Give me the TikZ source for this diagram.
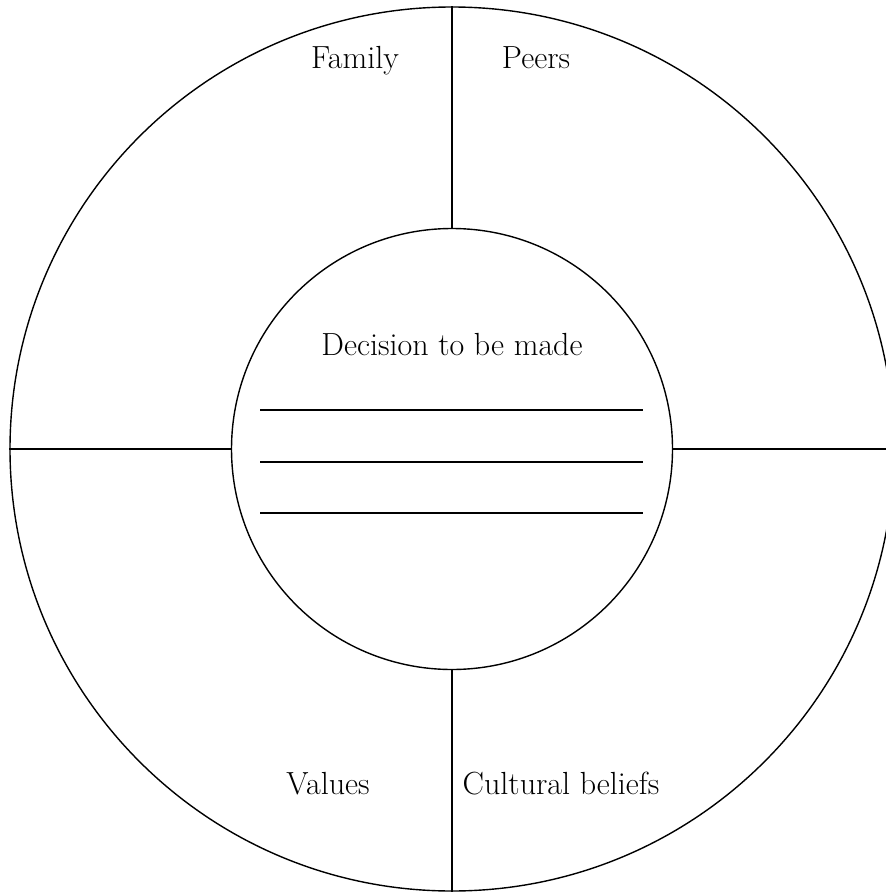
\documentclass[tikz,border=0pt]{standalone}
\usepackage{tikz}

\begin{document}
\begin{tikzpicture}[x=1pt, y=-1pt, line width=1.4pt,
	ring node/.style={circle, draw, inner sep=0pt},
	sector text/.style={font=\fontsize{32}{38}\selectfont, anchor=base, inner sep=0pt}]

			\useasboundingbox (0,0) rectangle (885,893);

			\node[ring node, minimum size=884pt] (outer) at (452,449) {};
			\node[ring node, minimum size=441pt] (inner) at (452,449) {};

			% dividing lines
			\draw (outer.north) -- (inner.north);
			\draw (inner.south) -- (outer.south);
			\draw (outer.west) -- (inner.west);
			\draw (inner.east) -- (outer.east);

			% sector names
			\node[sector text] (family) at (355,69) {Family};
			\node[sector text] (peers) at (536,69) {Peers};
			\node[sector text] (values) at (328,794) {Values};
			\node[sector text] (cultural) at (561,794) {Cultural beliefs};

			% decision
			\node[sector text] (decision) at (452,355) {Decision to be made};
			\coordinate (l1) at (260,410);
			\coordinate (r1) at (643,410);
			\coordinate (l2) at (260,462);
			\coordinate (r2) at (643,462);
			\coordinate (l3) at (260,513);
			\coordinate (r3) at (643,513);
			\draw (l1) -- (r1);
			\draw (l2) -- (r2);
			\draw (l3) -- (r3);

		\end{tikzpicture}
\end{document}
